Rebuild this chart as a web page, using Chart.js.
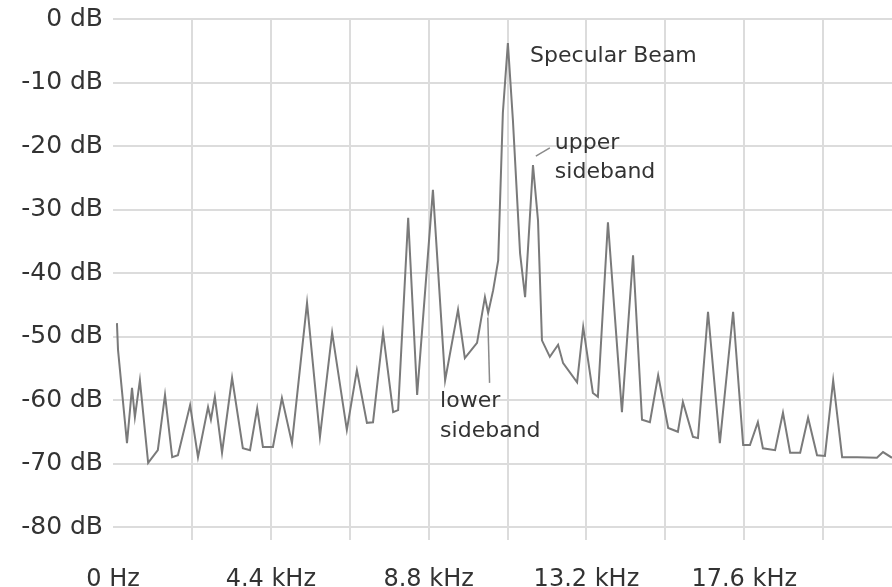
<!DOCTYPE html>
<html>
<head>
<meta charset="utf-8">
<script src="https://cdn.jsdelivr.net/npm/chart.js@4.4.1/dist/chart.umd.min.js"></script>
<style>
  html, body { margin: 0; padding: 0; background: #fff; }
  #wrap { width: 892px; height: 587px; }
</style>
</head>
<body>
<div id="wrap"><canvas id="spectrumChart"></canvas></div>
<script>
// spectrum trace (kHz, dB)
const freqKHz = [
  0.11, 0.14, 0.39, 0.53, 0.61, 0.75, 0.98, 1.25, 1.45, 1.65,
  1.81, 2.15, 2.37, 2.65, 2.73, 2.84, 3.04, 3.32, 3.62, 3.82,
  4.02, 4.18, 4.46, 4.71, 4.99, 5.41, 5.77, 6.11, 6.52, 6.80,
  7.08, 7.25, 7.53, 7.81, 7.95, 8.23, 8.48, 8.92, 9.26, 9.62,
  9.81, 10.15, 10.37, 10.46, 10.60, 10.74, 10.87, 11.01, 11.15, 11.35,
  11.49, 11.71, 11.85, 11.96, 12.18, 12.41, 12.55, 12.94, 13.11, 13.38,
  13.52, 13.80, 14.19, 14.50, 14.75, 14.97, 15.20, 15.48, 15.75, 15.89,
  16.17, 16.31, 16.59, 16.92, 17.29, 17.57, 17.76, 17.98, 18.12, 18.46,
  18.68, 18.88, 19.16, 19.38, 19.63, 19.85, 20.08, 20.33, 20.75, 21.30,
  21.47, 21.72
];
const levelDb = [
  -47.9, -52.1, -66.8, -58.1, -62.7, -56.9, -69.9, -67.9, -59.2, -69.0,
  -68.7, -60.8, -69.0, -61.1, -63.1, -59.5, -68.3, -56.5, -67.6, -67.9,
  -61.3, -67.4, -67.4, -59.7, -66.8, -44.7, -65.8, -49.4, -64.7, -55.3,
  -63.6, -63.5, -49.4, -61.9, -61.6, -31.3, -59.2, -26.9, -56.9, -45.8,
  -53.4, -51.0, -43.8, -46.3, -42.7, -38.0, -14.8, -3.8, -15.9, -36.9,
  -43.8, -23.0, -31.7, -50.6, -53.2, -51.3, -54.2, -57.2, -48.5, -58.9,
  -59.5, -32.0, -61.9, -37.2, -63.1, -63.5, -56.1, -64.4, -65.0, -60.3,
  -65.8, -66.0, -46.1, -66.8, -46.1, -67.1, -67.1, -63.5, -67.6, -67.9,
  -62.0, -68.3, -68.3, -62.8, -68.7, -68.8, -56.9, -69.0, -69.0, -69.1,
  -68.2, -69.1
];

const xTickValues = [0, 2.2, 4.4, 6.6, 8.8, 11, 13.2, 15.4, 17.6, 19.8];
const xTickLabels = ["0 Hz", "", "4.4 kHz", "", "8.8 kHz", "", "13.2 kHz", "", "17.6 kHz", ""];
const yTickValues = [0, -10, -20, -30, -40, -50, -60, -70, -80];
const yTickLabels = ["0 dB", "-10 dB", "-20 dB", "-30 dB", "-40 dB", "-50 dB", "-60 dB", "-70 dB", "-80 dB"];

// callouts, placed in data units
const notes = [
  { text: "Specular Beam", x: 11.63, y: -5.8 },
  { text: "upper", x: 12.32, y: -19.5 },
  { text: "sideband", x: 12.32, y: -24.1 },
  { text: "lower", x: 9.12, y: -60.2 },
  { text: "sideband", x: 9.12, y: -64.9 },
];
const leaders = [
  [11.79, -21.6, 12.18, -20.3],
  [10.45, -47.0, 10.50, -57.3],
];

const notesPlugin = {
  id: "notes",
  afterDatasetsDraw(chart) {
    const { ctx } = chart;
    const x = chart.scales.x;
    const y = chart.scales.y;
    ctx.save();
    ctx.strokeStyle = "#8a8a8a";
    ctx.lineWidth = 1.5;
    leaders.forEach((l) => {
      ctx.beginPath();
      ctx.moveTo(x.getPixelForValue(l[0]), y.getPixelForValue(l[1]));
      ctx.lineTo(x.getPixelForValue(l[2]), y.getPixelForValue(l[3]));
      ctx.stroke();
    });
    ctx.fillStyle = "#333";
    ctx.font = "22px 'DejaVu Sans'";
    ctx.textBaseline = "middle";
    notes.forEach((n) => {
      ctx.fillText(n.text, x.getPixelForValue(n.x), y.getPixelForValue(n.y));
    });
    ctx.restore();
  },
};

const spectrumCtx = document.getElementById("spectrumChart");

new Chart(spectrumCtx, {
  type: "line",
  data: {
    datasets: [
      {
        data: freqKHz.map((f, i) => ({ x: f, y: levelDb[i] })),
        borderColor: "#7a7a7a",
        borderWidth: 2,
        pointRadius: 0,
        fill: false,
        tension: 0,
      },
    ],
  },
  options: {
    responsive: true,
    maintainAspectRatio: false,
    animation: false,
    layout: { padding: { top: 19, right: 0, left: 0, bottom: 0 } },
    plugins: {
      legend: { display: false },
      tooltip: { enabled: false },
    },
    scales: {
      x: {
        type: "linear",
        min: 0,
        max: 21.72,
        afterBuildTicks: (s) => {
          s.ticks = xTickValues.map((v) => ({ value: v }));
        },
        afterFit: (s) => {
          s.height = 60;
          s.paddingLeft = 0;
          s.paddingRight = 0;
        },
        ticks: {
          autoSkip: false,
          maxRotation: 0,
          padding: 25,
          color: "#333",
          font: { family: "DejaVu Sans", size: 24 },
          callback: (v, i) => xTickLabels[i],
        },
        border: { display: false },
        grid: {
          color: (c) => (c.tick && c.tick.value === 0 ? "rgba(0,0,0,0)" : "#dcdcdc"),
          lineWidth: 2,
          tickLength: 13,
        },
      },
      y: {
        min: -80,
        max: 0,
        afterBuildTicks: (s) => {
          s.ticks = yTickValues.map((v) => ({ value: v }));
        },
        afterFit: (s) => {
          s.width = 113;
          s.paddingTop = 0;
          s.paddingBottom = 0;
        },
        ticks: {
          padding: 10,
          color: "#333",
          font: { family: "DejaVu Sans", size: 25 },
          callback: (v, i) => yTickLabels[i],
        },
        border: { display: false },
        grid: {
          color: "#dcdcdc",
          lineWidth: 2,
          drawTicks: false,
        },
      },
    },
  },
  plugins: [notesPlugin],
});
</script>
</body>
</html>
